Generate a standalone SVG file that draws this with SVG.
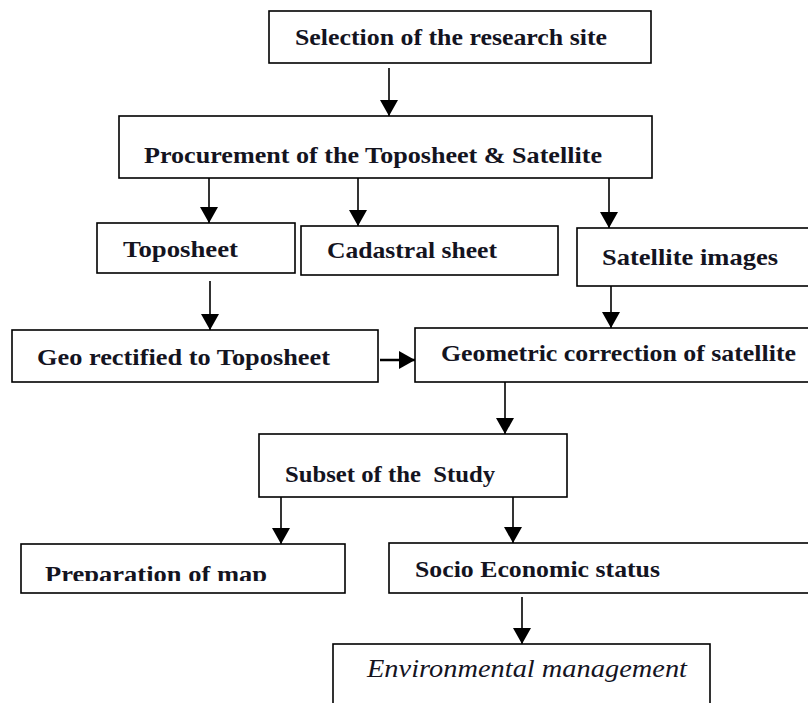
<svg xmlns="http://www.w3.org/2000/svg" width="808" height="703" viewBox="0 0 808 703">
<defs>
<style>
.box{fill:#fff;stroke:#000;stroke-width:1.6}
.t{font-family:"Liberation Serif","Times New Roman",serif;font-weight:bold;font-size:24px;fill:#14141f;white-space:pre}
.ti{font-family:"Liberation Serif","Times New Roman",serif;font-style:italic;font-size:25px;fill:#14141f}
.c{stroke:#000;stroke-width:1.6;fill:none;marker-end:url(#ah)}
</style>
<marker id="ah" markerUnits="userSpaceOnUse" markerWidth="16" markerHeight="18" refX="16" refY="9" orient="auto">
<path d="M0,0 L16,9 L0,18 z" fill="#000"/>
</marker>
<clipPath id="clipPrep"><rect x="21" y="544" width="324" height="37"/></clipPath>
</defs>
<rect width="808" height="703" fill="#fff"/>
<g id="connectors">
<line class="c" x1="389" y1="68" x2="389" y2="116"/>
<line class="c" x1="209" y1="178" x2="209" y2="223"/>
<line class="c" x1="358" y1="178" x2="358" y2="226"/>
<line class="c" x1="609" y1="178" x2="609" y2="228"/>
<line class="c" x1="210" y1="281" x2="210" y2="330"/>
<line class="c" x1="611" y1="277" x2="611" y2="328"/>
<line class="c" x1="380" y1="360" x2="415" y2="360" style="stroke-width:2.4"/>
<line class="c" x1="505" y1="382" x2="505" y2="434"/>
<line class="c" x1="281" y1="497" x2="281" y2="544"/>
<line class="c" x1="513" y1="495" x2="513" y2="543"/>
<line class="c" x1="522" y1="597" x2="522" y2="644"/>
</g>
<g id="n1"><rect class="box" x="269" y="11" width="382" height="52"/><text class="t" x="295" y="45" textLength="312" lengthAdjust="spacingAndGlyphs">Selection of the research site</text></g>
<g id="n2"><rect class="box" x="119" y="116" width="533" height="62"/><text class="t" x="144" y="163" textLength="458" lengthAdjust="spacingAndGlyphs">Procurement of the Toposheet &amp; Satellite</text></g>
<g id="n3"><rect class="box" x="97" y="223" width="198" height="50"/><text class="t" x="123" y="257" textLength="115" lengthAdjust="spacingAndGlyphs">Toposheet</text></g>
<g id="n4"><rect class="box" x="301" y="226" width="257" height="49"/><text class="t" x="327" y="258" textLength="170" lengthAdjust="spacingAndGlyphs">Cadastral sheet</text></g>
<g id="n5"><rect class="box" x="577" y="228" width="240" height="58"/><text class="t" x="602" y="265" textLength="176" lengthAdjust="spacingAndGlyphs">Satellite images</text></g>
<g id="n6"><rect class="box" x="12" y="330" width="366" height="52"/><text class="t" x="37" y="365" textLength="293" lengthAdjust="spacingAndGlyphs">Geo rectified to Toposheet</text></g>
<g id="n7"><rect class="box" x="415" y="328" width="400" height="54"/><text class="t" x="441" y="361" textLength="355" lengthAdjust="spacingAndGlyphs">Geometric correction of satellite</text></g>
<g id="n8"><rect class="box" x="259" y="434" width="308" height="63"/><text class="t" x="285" y="482" textLength="210" lengthAdjust="spacingAndGlyphs">Subset of the  Study</text></g>
<g id="n9"><rect class="box" x="21" y="544" width="324" height="49"/><text class="t" x="45" y="582" textLength="222" lengthAdjust="spacingAndGlyphs" clip-path="url(#clipPrep)">Preparation of map</text></g>
<g id="n10"><rect class="box" x="389" y="543" width="430" height="50"/><text class="t" x="415" y="577" textLength="245" lengthAdjust="spacingAndGlyphs">Socio Economic status</text></g>
<g id="n11"><rect class="box" x="333" y="644" width="377" height="70"/><text class="ti" x="367" y="677" textLength="320" lengthAdjust="spacingAndGlyphs">Environmental management</text></g>
</svg>
